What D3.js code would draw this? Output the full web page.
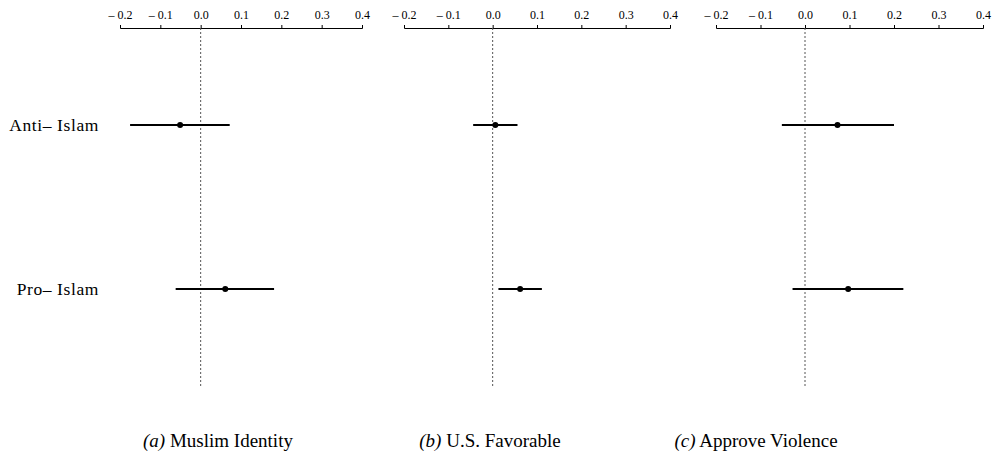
<!DOCTYPE html>
<html>
<head>
<script src="https://cdn.jsdelivr.net/npm/d3@7"></script>
<style>
    body { margin: 0; background: #fff; }
</style>
</head>
<body>
<svg id="chart" width="997" height="460"></svg>
<script>
    // data
    var groups = ["Anti– Islam", "Pro– Islam"];
    var panels = ["Muslim Identity", "U.S. Favorable", "Approve Violence"];
    var letters = ["(a)", "(b)", "(c)"];
    var est = [[-0.051, 0.061], [0.006, 0.062], [0.073, 0.097]];
    var lo = [[-0.175, -0.062], [-0.044, 0.013], [-0.052, -0.028]];
    var hi = [[0.072, 0.182], [0.056, 0.111], [0.200, 0.221]];
    var ticks = [-0.2, -0.1, 0.0, 0.1, 0.2, 0.3, 0.4];

    var serif = "'Liberation Serif', 'Times New Roman', Times, serif";
    var svg = d3.select("#chart").style("font-family", serif);
    var axisY = 28, bottomY = 386;
    var rowY = d3.scalePoint().domain(groups).range([125, 289]);
    var ranges = [[120, 362], [404, 670], [716, 983]];
    var captionX = [218, 490, 756];

    panels.forEach(function (name, p) {
        var x = d3.scaleLinear().domain([-0.2, 0.4]).range(ranges[p]);
        var g = svg.append("g");

        g.append("g")
            .attr("transform", "translate(0," + axisY + ")")
            .call(d3.axisTop(x).tickValues(ticks).tickSize(3).tickPadding(6)
                .tickFormat(function (d) { return d < 0 ? "– " + Math.abs(d).toFixed(1) : d.toFixed(1); }))
            .call(function (a) {
                a.attr("font-family", serif).attr("font-size", 12);
                a.selectAll("text").attr("fill", "#000");
                a.selectAll("line,path").attr("stroke", "#000");
            });

        g.append("line")
            .attr("x1", x(0)).attr("x2", x(0))
            .attr("y1", axisY).attr("y2", bottomY)
            .attr("stroke", "#555").attr("stroke-width", 1)
            .attr("stroke-dasharray", "2,2");

        groups.forEach(function (grp, i) {
            g.append("line")
                .attr("x1", x(lo[p][i])).attr("x2", x(hi[p][i]))
                .attr("y1", rowY(grp)).attr("y2", rowY(grp))
                .attr("stroke", "#000").attr("stroke-width", 2);
            g.append("circle")
                .attr("cx", x(est[p][i])).attr("cy", rowY(grp))
                .attr("r", 3).attr("fill", "#000");
        });

        var cap = g.append("text")
            .attr("x", captionX[p]).attr("y", 447)
            .attr("text-anchor", "middle")
            .style("font-family", serif)
            .style("font-size", "19px");
        cap.append("tspan").style("font-style", "italic").text(letters[p]);
        cap.append("tspan").text(" " + name);
    });

    groups.forEach(function (grp) {
        svg.append("text")
            .attr("x", 99).attr("y", rowY(grp) + 6)
            .attr("text-anchor", "end")
            .style("font-family", serif)
            .style("font-size", "17.5px")
            .style("letter-spacing", "0.6px")
            .text(grp);
    });
</script>
</body>
</html>
